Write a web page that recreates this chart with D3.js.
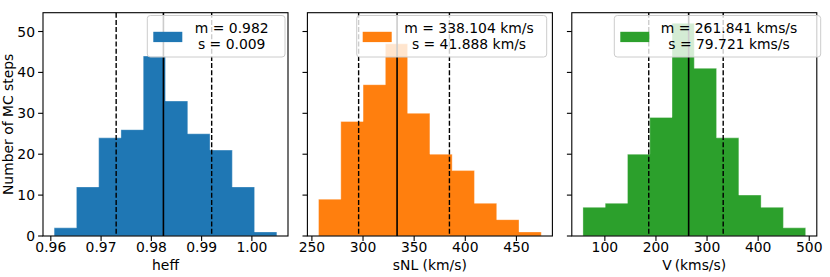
<!DOCTYPE html>
<html>
<head>
<meta charset="utf-8">
<script src="https://cdn.jsdelivr.net/npm/d3@7"></script>
<style>
  body { margin: 0; background: #fff; }
  text { font-family: "DejaVu Sans", sans-serif; }
</style>
</head>
<body>
<script>
/* ---------------------------------- data ---------------------------------- */
const heffCounts = [2, 12, 24, 26, 44, 33, 25, 21, 12, 1];
const heffBinRange = [0.96066, 1.00497];
const heffLines = [0.9730, 0.9824, 0.9920];     // lower, mean, upper
const heffTicks = [0.96, 0.97, 0.98, 0.99, 1.00];
const heffLegend = ["m = 0.982", "s = 0.009"];

const snlCounts = [9, 28, 37, 47, 30, 20, 16, 8, 4, 1];
const snlBinRange = [256.5, 474.3];
const snlLines = [295.7, 333.3, 384.5];
const snlTicks = [250, 300, 350, 400, 450];
const snlLegend = ["m = 338.104 km/s", "s = 41.888 km/s"];

const vCounts = [7, 8, 20, 29, 52, 41, 24, 10, 7, 2];
const vBinRange = [57.1, 493.0];
const vLines = [185.9, 264.0, 331.6];
const vTicks = [100, 200, 300, 400, 500];
const vLegend = ["m = 261.841 kms/s", "s = 79.721 kms/s"];

const yTicks = [0, 10, 20, 30, 40, 50];
const xLabels = ["heff", "sNL (km/s)", "V\u2009(kms/s)"];
const yLabel = "Number of MC steps";

/* ------------------------------ layout / style ----------------------------- */
const width = 830, height = 277;
const plotTop = 12.7, plotBottom = 236, panelW = 245;
const fontSize = 13.9;
const colors = ["#1f77b4", "#ff7f0e", "#2ca02c"];

const panels = [
  { counts: heffCounts, range: heffBinRange, lines: heffLines, ticks: heffTicks, fmt: d3.format(".2f"),
    legend: heffLegend, left: 43, box: [147.3, 285], textX: 231.7 },
  { counts: snlCounts, range: snlBinRange, lines: snlLines, ticks: snlTicks, fmt: d3.format("d"),
    legend: snlLegend, left: 307.4, box: [356.7, 546.7], textX: 469 },
  { counts: vCounts, range: vBinRange, lines: vLines, ticks: vTicks, fmt: d3.format("d"),
    legend: vLegend, left: 571.8, box: [614.3, 820.7], textX: 729 }
];

const svg = d3.select("body").append("svg")
  .attr("width", width)
  .attr("height", height);

// shared y axis, matplotlib style 5% headroom
const yMax = d3.max(panels, p => d3.max(p.counts)) * 1.05;
const y = d3.scaleLinear().domain([0, yMax]).range([plotBottom, plotTop]);

panels.forEach((p, i) => {
  const n = p.counts.length;
  const step = (p.range[1] - p.range[0]) / n;
  const edges = d3.range(n + 1).map(k => p.range[0] + k * step);
  const pad = (p.range[1] - p.range[0]) * 0.05;
  const x = d3.scaleLinear()
    .domain([p.range[0] - pad, p.range[1] + pad])
    .range([p.left, p.left + panelW]);

  const g = svg.append("g");

  // stepfilled histogram
  const pts = [[edges[0], 0]];
  p.counts.forEach((c, k) => { pts.push([edges[k], c], [edges[k + 1], c]); });
  pts.push([edges[n], 0]);
  g.append("path")
    .attr("d", d3.line().x(d => x(d[0])).y(d => y(d[1]))(pts) + "Z")
    .attr("fill", colors[i])
    .attr("stroke", "#fff")
    .attr("stroke-opacity", 0.35)
    .attr("stroke-width", 1);

  // percentile / mean lines
  p.lines.forEach((v, k) => {
    g.append("line")
      .attr("x1", x(v)).attr("x2", x(v))
      .attr("y1", plotTop).attr("y2", plotBottom)
      .attr("stroke", "#000")
      .attr("stroke-width", k === 1 ? 1.6 : 1.4)
      .attr("stroke-dasharray", k === 1 ? null : "5,2.2");
  });

  // frame
  g.append("rect")
    .attr("x", p.left).attr("y", plotTop)
    .attr("width", panelW).attr("height", plotBottom - plotTop)
    .attr("fill", "none").attr("stroke", "#000").attr("stroke-width", 1.1);

  // x axis ticks
  p.ticks.forEach(t => {
    g.append("line").attr("x1", x(t)).attr("x2", x(t))
      .attr("y1", plotBottom).attr("y2", plotBottom + 4.9)
      .attr("stroke", "#000").attr("stroke-width", 1.1);
    g.append("text").attr("x", x(t)).attr("y", 251.5)
      .attr("text-anchor", "middle").attr("font-size", fontSize)
      .text(p.fmt(t));
  });
  g.append("text").attr("x", p.left + panelW / 2).attr("y", 270)
    .attr("text-anchor", "middle").attr("font-size", fontSize)
    .text(xLabels[i]);

  // y axis ticks (labels only on first panel)
  yTicks.forEach(t => {
    g.append("line").attr("x1", p.left - 4.9).attr("x2", p.left)
      .attr("y1", y(t)).attr("y2", y(t))
      .attr("stroke", "#000").attr("stroke-width", 1.1);
    if (i === 0) {
      g.append("text").attr("x", p.left - 8).attr("y", y(t))
        .attr("dy", "0.36em")
        .attr("text-anchor", "end").attr("font-size", fontSize)
        .text(t);
    }
  });

  // legend
  const lg = svg.append("g");
  lg.append("rect")
    .attr("x", p.box[0]).attr("y", 15.5)
    .attr("width", p.box[1] - p.box[0]).attr("height", 41.5)
    .attr("rx", 3)
    .attr("fill", "#fff").attr("fill-opacity", 0.8)
    .attr("stroke", "#ccc").attr("stroke-width", 1);
  lg.append("rect")
    .attr("x", p.box[0] + 6).attr("y", 31.8)
    .attr("width", 29).attr("height", 10.3)
    .attr("fill", colors[i]);
  p.legend.forEach((s, k) => {
    lg.append("text").attr("x", p.textX).attr("y", 33.3 + k * 15.6)
      .attr("text-anchor", "middle").attr("font-size", fontSize)
      .text(s);
  });
});

svg.append("text")
  .attr("transform", "translate(12.5," + (plotTop + plotBottom) / 2 + ") rotate(-90)")
  .attr("text-anchor", "middle").attr("font-size", fontSize)
  .text(yLabel);
</script>
</body>
</html>
